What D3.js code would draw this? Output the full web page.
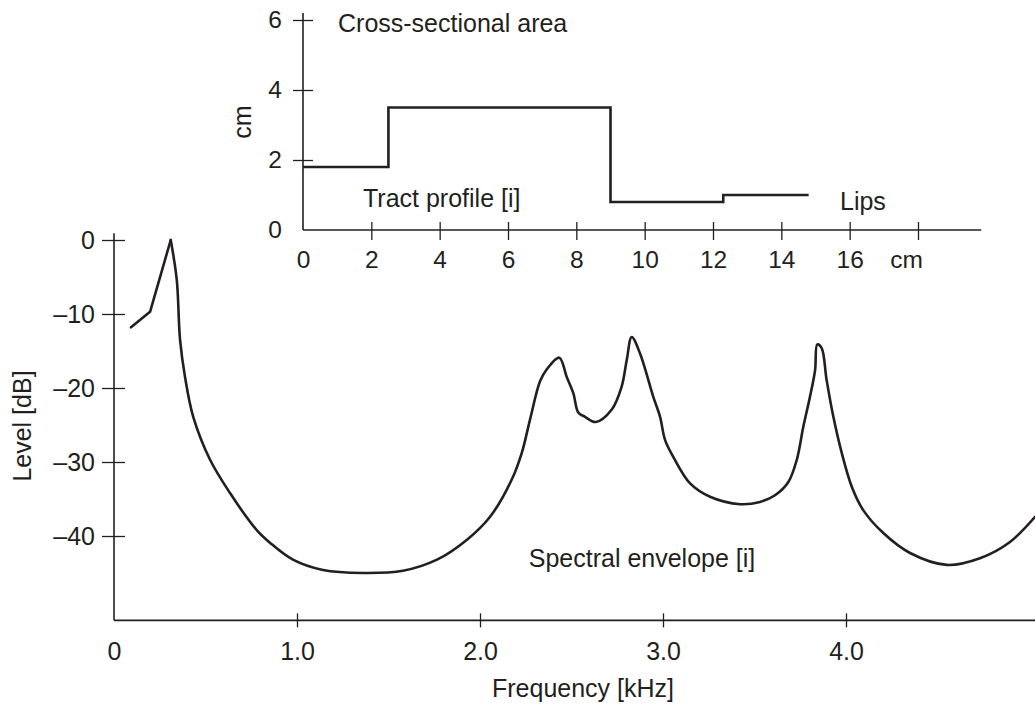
<!DOCTYPE html>
<html>
<head>
<meta charset="utf-8">
<script src="https://cdn.jsdelivr.net/npm/d3@7"></script>
<style>
  body { margin: 0; background: #fff; }
  text { font-family: "Liberation Sans", Arial, sans-serif; fill: #231f20; }
</style>
</head>
<body>
<svg id="chart" width="1035" height="704"></svg>
<script>
// spectral envelope [i]  (frequency in kHz, level in dB)
let freq = [0.093, 0.197, 0.310, 0.343, 0.361, 0.388, 0.433, 0.525, 0.634, 0.780,
    0.852, 0.978, 1.142, 1.361, 1.579, 1.765, 1.929, 2.055, 2.173, 2.228,
    2.273, 2.328, 2.364, 2.433, 2.474, 2.510, 2.537, 2.574, 2.632, 2.720,
    2.774, 2.802, 2.829, 2.874, 2.947, 2.984, 3.011, 3.056, 3.148, 3.257,
    3.421, 3.530, 3.612, 3.685, 3.731, 3.767, 3.803, 3.831, 3.843, 3.867,
    3.894, 3.931, 3.977, 4.031, 4.094, 4.204, 4.350, 4.550, 4.732, 4.896, 5.033];
let level = [-11.8, -9.7, 0.0, -5.4, -13.5, -18.5, -23.9, -29.7, -34.2, -39.2,
    -40.9, -43.2, -44.6, -45.0, -44.7, -43.2, -40.5, -37.4, -32.4, -28.8,
    -24.3, -19.1, -17.5, -15.9, -18.5, -20.7, -23.3, -23.9, -24.6, -22.9,
    -19.8, -16.2, -13.1, -15.3, -21.2, -23.9, -27.0, -29.3, -32.9, -34.7,
    -35.7, -35.4, -34.5, -32.7, -29.7, -25.2, -21.2, -17.6, -14.1, -14.6,
    -18.9, -23.9, -28.8, -33.3, -36.5, -39.6, -42.3, -43.9, -43.0, -40.8, -37.4];
let freqTicks = [0, 1, 2, 3, 4];
let freqLabels = ["0", "1.0", "2.0", "3.0", "4.0"];
let levelTicks = [0, -10, -20, -30, -40];
let levelLabels = ["0", "\u201310", "\u201320", "\u201330", "\u201340"];

// tract profile [i]  (distance from glottis in cm, cross-sectional area)
let tractPos = [0, 2.5, 9.0, 12.3, 14.8];
let tractArea = [1.8, 3.5, 0.8, 1.0, 1.0];
let tractXTicks = [0, 2, 4, 6, 8, 10, 12, 14, 16, 18];
let tractXLabels = ["0", "2", "4", "6", "8", "10", "12", "14", "16", "cm"];
let tractYTicks = [0, 2, 4, 6];
let tractYLabels = ["0", "2", "4", "6"];

let ink = "#231f20";
let svg = d3.select("#chart");

// d3 axes set their own font, so restyle after the call
let styleAxis = (g, size) => g
    .attr("font-size", size)
    .attr("font-family", null)
    .attr("color", ink);

// ---- main spectrum ----
let x = d3.scaleLinear().domain([0, 5]).range([114, 1029]);
let y = d3.scaleLinear().domain([-40, 0]).range([536, 240]);
let levelMin = -51.4, levelMax = 0.9;

let gx = svg.append("g")
    .attr("transform", "translate(0," + y(levelMin) + ")")
    .call(d3.axisBottom(x).tickValues(freqTicks).tickFormat((d, i) => freqLabels[i]))
    .call(styleAxis, 25);
gx.select(".domain").remove();
gx.selectAll(".tick line").attr("y1", -7).attr("y2", 7).attr("stroke-width", 1.3)
    .attr("display", d => d === 0 ? "none" : null);
gx.selectAll(".tick text").attr("y", 22).attr("dy", "0.71em");

let gy = svg.append("g")
    .attr("transform", "translate(" + x(0) + ",0)")
    .call(d3.axisLeft(y).tickValues(levelTicks).tickFormat((d, i) => levelLabels[i]))
    .call(styleAxis, 25);
gy.select(".domain").remove();
gy.selectAll(".tick line").attr("x1", 11).attr("x2", -12).attr("stroke-width", 1.3);
gy.selectAll(".tick text").attr("x", -19);

svg.append("line")
    .attr("x1", x(0)).attr("x2", 1035)
    .attr("y1", y(levelMin)).attr("y2", y(levelMin))
    .attr("stroke", ink).attr("stroke-width", 1.6);
svg.append("line")
    .attr("x1", x(0)).attr("x2", x(0))
    .attr("y1", y(levelMax)).attr("y2", y(levelMin))
    .attr("stroke", ink).attr("stroke-width", 1.6);

// the low end up to F1 is drawn straight, the rest smoothed
let firstPeak = 2;
let straight = d3.line()
    .x(i => x(freq[i]))
    .y(i => y(level[i]));
let smooth = d3.line()
    .curve(d3.curveCatmullRom.alpha(0.5))
    .x(i => x(freq[i]))
    .y(i => y(level[i]));

svg.append("path")
    .datum(d3.range(0, firstPeak + 1))
    .attr("fill", "none")
    .attr("stroke", ink)
    .attr("stroke-width", 2.6)
    .attr("stroke-linejoin", "round")
    .attr("stroke-linecap", "round")
    .attr("d", straight);

svg.append("path")
    .datum(d3.range(firstPeak, freq.length))
    .attr("fill", "none")
    .attr("stroke", ink)
    .attr("stroke-width", 2.6)
    .attr("stroke-linejoin", "round")
    .attr("stroke-linecap", "round")
    .attr("d", smooth);

svg.append("text").attr("x", 642).attr("y", 567).attr("text-anchor", "middle")
    .attr("font-size", 25).text("Spectral envelope [i]");
svg.append("text").attr("x", 583).attr("y", 697).attr("text-anchor", "middle")
    .attr("font-size", 25).text("Frequency [kHz]");
svg.append("text").attr("transform", "translate(31,426) rotate(-90)")
    .attr("text-anchor", "middle").attr("font-size", 25).text("Level [dB]");

// ---- inset: tract profile ----
let xi = d3.scaleLinear().domain([0, 18]).range([303, 918]);
let yi = d3.scaleLinear().domain([0, 6]).range([230, 20]);

let gxi = svg.append("g")
    .attr("transform", "translate(0," + yi(0) + ")")
    .call(d3.axisBottom(xi).tickValues(tractXTicks).tickFormat((d, i) => tractXLabels[i]))
    .call(styleAxis, 24.5);
gxi.select(".domain").remove();
gxi.selectAll(".tick line").attr("y1", -8).attr("y2", 10).attr("stroke-width", 1.3)
    .attr("display", d => d === 0 ? "none" : null);
gxi.selectAll(".tick text").attr("y", 21).attr("dy", "0.71em")
    .attr("x", d => d === 18 ? -12 : 0);

let gyi = svg.append("g")
    .attr("transform", "translate(" + xi(0) + ",0)")
    .call(d3.axisLeft(yi).tickValues(tractYTicks).tickFormat((d, i) => tractYLabels[i]))
    .call(styleAxis, 24.5);
gyi.select(".domain").remove();
gyi.selectAll(".tick line").attr("x1", 10).attr("x2", -10).attr("stroke-width", 1.3)
    .attr("display", d => d === 0 ? "none" : null);
gyi.selectAll(".tick text").attr("x", -21);

svg.append("line")
    .attr("x1", xi(0)).attr("x2", xi(19.85))
    .attr("y1", yi(0)).attr("y2", yi(0))
    .attr("stroke", ink).attr("stroke-width", 1.6);
svg.append("line")
    .attr("x1", xi(0)).attr("x2", xi(0))
    .attr("y1", yi(6.2)).attr("y2", yi(0))
    .attr("stroke", ink).attr("stroke-width", 1.6);

let profile = d3.line()
    .curve(d3.curveStepAfter)
    .x((d, i) => xi(tractPos[i]))
    .y((d, i) => yi(tractArea[i]));

svg.append("path")
    .datum(tractPos)
    .attr("fill", "none")
    .attr("stroke", ink)
    .attr("stroke-width", 2.6)
    .attr("d", profile);

svg.append("text").attr("x", 338).attr("y", 32).attr("font-size", 25).text("Cross-sectional area");
svg.append("text").attr("x", 363).attr("y", 207).attr("font-size", 25).text("Tract profile [i]");
svg.append("text").attr("x", 840).attr("y", 210).attr("font-size", 25).text("Lips");
svg.append("text").attr("transform", "translate(251,122) rotate(-90)")
    .attr("text-anchor", "middle").attr("font-size", 25).text("cm");
</script>
</body>
</html>
